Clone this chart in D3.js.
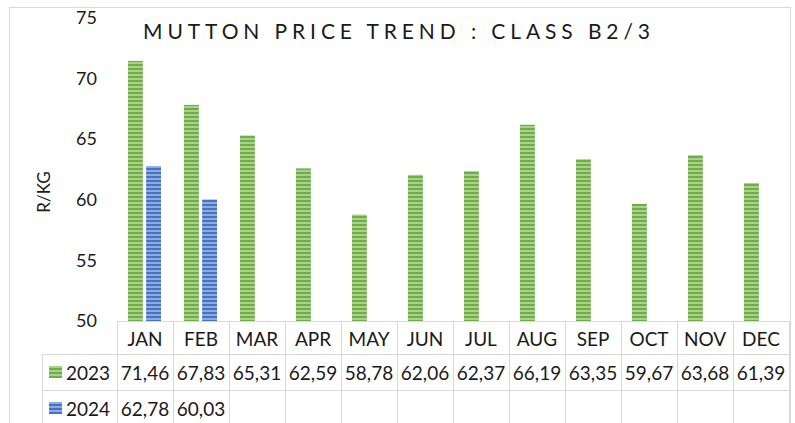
<!DOCTYPE html>
<html>
<head>
<meta charset="utf-8">
<script src="https://cdn.jsdelivr.net/npm/d3@7"></script>
<style>
  body { margin: 0; background: #fff; }
  svg { display: block; font-family: Lato, "Open Sans", sans-serif; }
</style>
</head>
<body>
<div id="chart"></div>
<script>
// data
var months = ["JAN", "FEB", "MAR", "APR", "MAY", "JUN", "JUL", "AUG", "SEP", "OCT", "NOV", "DEC"];
var years = ["2023", "2024"];
var values2023 = [71.46, 67.83, 65.31, 62.59, 58.78, 62.06, 62.37, 66.19, 63.35, 59.67, 63.68, 61.39];
var values2024 = [62.78, 60.03];
var yTicks = [50, 55, 60, 65, 70, 75];

var width = 795, height = 423;
var plot = {left: 117, right: 789, top: 18, bottom: 321};
var rowH = [33, 36, 36];
var legendLeft = 42;
var grid = "#d9d9d9";

var series = [
  {name: "2023", values: values2023, fill: "url(#stripeGreen)"},
  {name: "2024", values: values2024, fill: "url(#stripeBlue)"}
];

var svg = d3.select("#chart").append("svg")
    .attr("width", width)
    .attr("height", height);

// striped fills
var defs = svg.append("defs");
function stripes(id, light, dark) {
  var p = defs.append("pattern")
      .attr("id", id)
      .attr("patternUnits", "userSpaceOnUse")
      .attr("width", 4).attr("height", 4);
  p.append("rect").attr("width", 4).attr("height", 4).attr("fill", light);
  p.append("rect").attr("width", 4).attr("height", 2).attr("fill", dark);
}
stripes("stripeGreen", "#a9d18e", "#70ad47");
stripes("stripeBlue", "#8faadc", "#4472c4");

// outer frame
svg.append("rect")
    .attr("x", 9.5).attr("y", 7.5)
    .attr("width", 781).attr("height", 430)
    .attr("fill", "none")
    .attr("stroke", grid);

// title
svg.append("text")
    .attr("x", 143).attr("y", 39)
    .attr("textLength", 507)
    .attr("lengthAdjust", "spacing")
    .style("font-size", "21px")
    .style("fill", "#1a1a1a")
    .text("MUTTON PRICE TREND : CLASS B2/3");

// scales
var x = d3.scaleBand().domain(months).range([plot.left, plot.right]);
var x1 = d3.scaleBand().domain(years).range([11, 44]).paddingInner(0.18);
var y = d3.scaleLinear().domain([50, 75]).range([plot.bottom, plot.top]);

// y axis (labels only)
var yAxis = svg.append("g")
    .attr("transform", "translate(97,0)")
    .call(d3.axisLeft(y).tickValues(yTicks).tickSize(0).tickPadding(0));
yAxis.select(".domain").remove();
yAxis.selectAll("text")
    .style("font-size", "18px")
    .style("font-family", "Lato, 'Open Sans', sans-serif")
    .attr("fill", "#1a1a1a");

svg.append("text")
    .attr("transform", "translate(50,192) rotate(-90)")
    .attr("text-anchor", "middle")
    .style("font-size", "17px")
    .style("fill", "#1a1a1a")
    .text("R/KG");

// bars
series.forEach(function(s) {
  svg.append("g").selectAll("rect")
      .data(s.values)
    .enter().append("rect")
      .attr("x", function(d, i) { return x(months[i]) + x1(s.name); })
      .attr("y", function(d) { return y(d); })
      .attr("width", x1.bandwidth())
      .attr("height", function(d) { return y(50) - y(d); })
      .attr("fill", s.fill);
});

// data table
var t = svg.append("g").attr("stroke", grid).attr("stroke-width", 1).attr("fill", "none");
var r0 = plot.bottom, r1 = r0 + rowH[0], r2 = r1 + rowH[1], r3 = r2 + rowH[2];
function hline(x0, x1_, yy) {
  t.append("line").attr("x1", x0).attr("x2", x1_).attr("y1", yy + 0.5).attr("y2", yy + 0.5);
}
function vline(xx, y0, y1_) {
  t.append("line").attr("x1", xx + 0.5).attr("x2", xx + 0.5).attr("y1", y0).attr("y2", y1_);
}
hline(plot.left, plot.right + 1, r0);
hline(legendLeft, plot.right + 1, r1);
hline(legendLeft, plot.right + 1, r2);
vline(legendLeft, r1, height);
months.forEach(function(m) { vline(Math.round(x(m)), r0, height); });
vline(plot.right, r0, height);

var textStyle = function(sel) {
  sel.style("font-size", "19px").style("fill", "#1a1a1a").attr("text-anchor", "middle");
};

svg.append("g").selectAll("text")
    .data(months)
  .enter().append("text")
    .attr("x", function(m) { return x(m) + x.bandwidth() / 2; })
    .attr("y", r0 + 25)
    .call(textStyle)
    .text(function(m) { return m; });

var fmt = function(v) { return v.toFixed(2).replace(".", ","); };
var keyColors = [["#a9d18e", "#70ad47"], ["#8faadc", "#4472c4"]];

series.forEach(function(s, k) {
  var top = k === 0 ? r1 : r2;
  svg.append("g").selectAll("text")
      .data(s.values)
    .enter().append("text")
      .attr("x", function(d, i) { return x(months[i]) + x.bandwidth() / 2; })
      .attr("y", top + 26)
      .call(textStyle)
      .text(fmt);

  // legend key
  svg.append("rect")
      .attr("x", 49).attr("y", top + 12)
      .attr("width", 13).attr("height", 12)
      .attr("fill", k === 0 ? "url(#stripeGreen)" : "url(#stripeBlue)");
  svg.append("text")
      .attr("x", 66).attr("y", top + 26)
      .style("font-size", "19px").style("fill", "#1a1a1a")
      .text(s.name);
});
</script>
</body>
</html>
